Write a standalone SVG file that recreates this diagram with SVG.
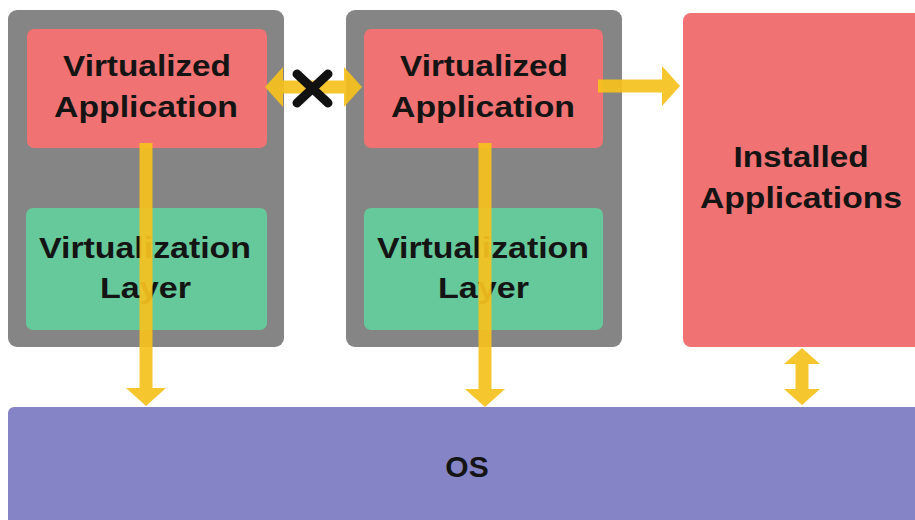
<svg xmlns="http://www.w3.org/2000/svg" width="915" height="520" viewBox="0 0 915 520">
<defs>
<style>
.box{fill:#858585}
.app{fill:#f07272}
.layer{fill:#66c99b}
.os{fill:#8484c6}
.t{font-family:"Liberation Sans",Arial,sans-serif;font-weight:bold;font-size:30px;fill:#141414;text-anchor:middle}
.arr{stroke:#f6c21f;stroke-width:13;fill:none;opacity:0.93}
.x{stroke:#111;stroke-width:9;stroke-linecap:round}
</style>
<marker id="head" markerUnits="userSpaceOnUse" markerWidth="18" markerHeight="40" viewBox="0 0 18 40" refX="0" refY="20" orient="auto-start-reverse">
<path d="M0,0 L18,20 L0,40 Z" fill="#f6c21f"/>
</marker>
<marker id="headS" markerUnits="userSpaceOnUse" markerWidth="16" markerHeight="36" viewBox="0 0 16 36" refX="0" refY="18" orient="auto-start-reverse">
<path d="M0,0 L16,18 L0,36 Z" fill="#f6c21f"/>
</marker>
</defs>
<rect width="915" height="520" fill="#ffffff"/>
<g id="os">
<rect class="os" x="8" y="407" width="920" height="120" rx="6"/>
<text class="t" x="467" y="477">OS</text>
</g>
<g id="container1">
<rect class="box" x="8" y="10" width="276" height="337" rx="9"/>
</g>
<g id="container2">
<rect class="box" x="346" y="10" width="276" height="337" rx="9"/>
</g>
<g id="app1">
<rect class="app" x="27" y="29" width="240" height="119" rx="7"/>
<text class="t" x="147" y="76" textLength="168" lengthAdjust="spacingAndGlyphs">Virtualized</text>
<text class="t" x="146" y="117" textLength="184" lengthAdjust="spacingAndGlyphs">Application</text>
</g>
<g id="layer1">
<rect class="layer" x="26" y="208" width="241" height="122" rx="7"/>
<text class="t" x="145" y="258" textLength="212" lengthAdjust="spacingAndGlyphs">Virtualization</text>
<text class="t" x="145.5" y="298" textLength="91" lengthAdjust="spacingAndGlyphs">Layer</text>
</g>
<g id="app2">
<rect class="app" x="364" y="29" width="239" height="119" rx="7"/>
<text class="t" x="484" y="76" textLength="168" lengthAdjust="spacingAndGlyphs">Virtualized</text>
<text class="t" x="483" y="117" textLength="184" lengthAdjust="spacingAndGlyphs">Application</text>
</g>
<g id="layer2">
<rect class="layer" x="364" y="208" width="239" height="122" rx="7"/>
<text class="t" x="483" y="258" textLength="212" lengthAdjust="spacingAndGlyphs">Virtualization</text>
<text class="t" x="483.5" y="298" textLength="91" lengthAdjust="spacingAndGlyphs">Layer</text>
</g>
<g id="installed">
<rect class="app" x="683" y="13" width="245" height="334" rx="8"/>
<text class="t" x="801" y="167" textLength="135" lengthAdjust="spacingAndGlyphs">Installed</text>
<text class="t" x="801" y="208" textLength="202" lengthAdjust="spacingAndGlyphs">Applications</text>
</g>
<g id="connectors">
<line class="arr" x1="146" y1="143" x2="146" y2="388" marker-end="url(#head)"/>
<line class="arr" x1="485" y1="143" x2="485" y2="389" marker-end="url(#head)"/>
<line class="arr" x1="283" y1="87" x2="344" y2="87" marker-start="url(#head)" marker-end="url(#head)"/>
<line class="arr" x1="598" y1="86" x2="662" y2="86" marker-end="url(#head)"/>
<line class="arr" x1="802" y1="364" x2="802" y2="389" marker-start="url(#headS)" marker-end="url(#headS)"/>
<line class="x" x1="297" y1="74" x2="328" y2="103"/>
<line class="x" x1="328" y1="74" x2="297" y2="103"/>
</g>
</svg>
